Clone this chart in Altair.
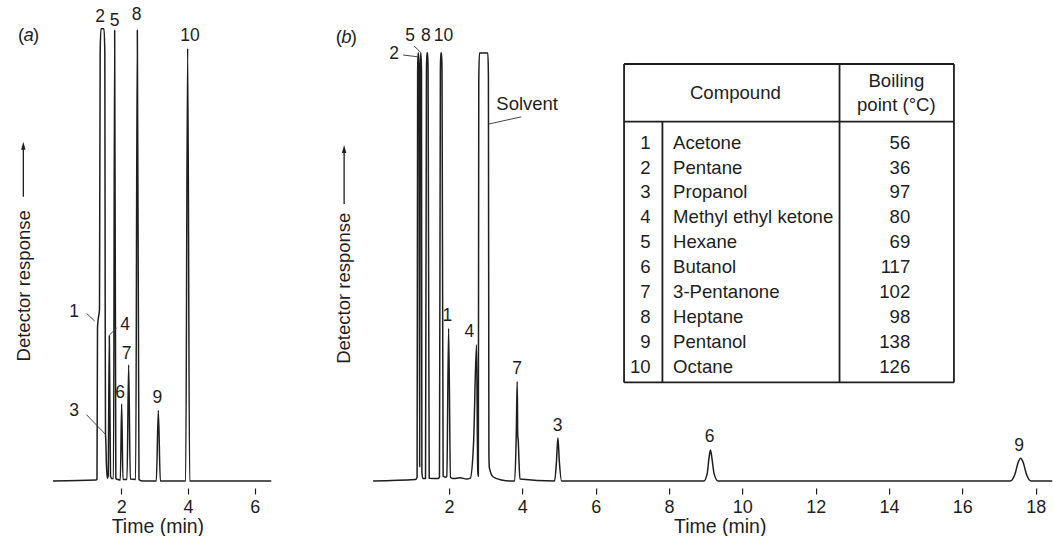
import altair as alt
import pandas as pd

FONT = "Liberation Sans"
INK = "#1e1e1e"

# ---------------- values ----------------
# (a) chromatogram trace: time (min) / detector response (% of full scale)
a_time = [-0.05, 1.24, 1.27, 1.285, 1.30, 1.345, 1.365, 1.39, 1.48, 1.505,
          1.515, 1.525, 1.535, 1.55, 1.58, 1.605, 1.64, 1.675, 1.72, 1.765,
          1.80, 1.835, 1.90, 1.97, 2.01, 2.05, 2.17, 2.22, 2.27, 2.43,
          2.48, 2.53, 2.65, 3.05, 3.11, 3.17, 3.93, 3.99, 4.05, 6.5]
a_resp = [0, 0.2, 0.4, 32.0, 33.6, 36.0, 90.0, 95.0, 95.0, 90.0,
          40.0, 10.0, 8.5, 4.0, 0.6, 1.0, 30.5, 1.0, 0.5, 0.5,
          94.7, 0.5, 0.3, 0.2, 16.2, 0.3, 0.3, 24.4, 0.4, 0.3,
          94.7, 0.3, 0.0, 0.0, 14.8, 0.0, 0.0, 90.9, 0.0, 0.0]

# (a) peak labels
a_lab_text = ["2", "5", "8", "10", "1", "4", "7", "6", "9", "3"]
a_lab_time = [1.36, 1.80, 2.46, 4.06, 0.58, 2.11, 2.16, 1.96, 3.08, 0.58]
a_lab_resp = [97.5, 96.7, 97.9, 93.5, 35.6, 32.8, 26.7, 18.4, 17.4, 14.8]
# (a) leader lines (for peaks 1, 3, 4)
a_lead_t1 = [0.96, 0.96, 1.86]
a_lead_r1 = [35.2, 13.9, 32.2]
a_lead_t2 = [1.20, 1.51, 1.65]
a_lead_r2 = [33.6, 9.9, 30.7]

# (b) chromatogram trace
b_time = [-0.07, 1.08, 1.13, 1.145, 1.155, 1.17, 1.18, 1.20, 1.215, 1.225,
          1.235, 1.25, 1.26, 1.285, 1.36, 1.385, 1.395, 1.42, 1.43, 1.46,
          1.70, 1.74, 1.765, 1.775, 1.80, 1.81, 1.84, 1.90, 1.94, 1.99,
          2.04, 2.12, 2.30, 2.48, 2.58, 2.67, 2.75, 2.785, 2.80, 2.812,
          2.83, 3.06, 3.075, 3.088, 3.10, 3.20, 3.43, 3.70, 3.79, 3.835,
          3.86, 3.875, 3.89, 3.905, 3.935, 4.88, 4.93, 4.97, 5.01, 5.07,
          8.95, 9.04, 9.09, 9.13, 9.17, 9.23, 9.34, 17.30, 17.44, 17.52,
          17.59, 17.66, 17.74, 17.88, 18.45]
b_resp = [0, 0.3, 0.8, 86, 89.9, 89.9, 86, 3, 86, 89.9,
          89.9, 86, 2, 0.5, 0.5, 86, 89.9, 89.9, 86, 0.6,
          0.5, 0.8, 86, 89.9, 89.9, 86, 1.0, 0.8, 1.0, 32.1,
          0.8, 0.5, 0.7, 0.4, 0.6, 8, 28.6, 2, 1.0, 84,
          89.9, 89.9, 85, 6, 2.8, 0.9, 0.2, 0, 0, 10,
          20.9, 9.5, 8.3, 5, 0.4, 0, 4, 9.1, 4, 0,
          0, 1.5, 4.8, 6.5, 4.8, 1.5, 0, 0, 1.6, 3.9,
          4.8, 3.9, 1.6, 0, 0]

# (b) peak labels
b_lab_text = ["5", "8", "10", "2", "1", "4", "7", "3", "6", "9"]
b_lab_time = [0.94, 1.37, 1.85, 0.50, 1.955, 2.555, 3.86, 4.96, 9.11, 17.55]
b_lab_resp = [93.5, 93.5, 93.5, 89.7, 34.6, 31.4, 23.6, 11.5, 9.2, 7.4]
# (b) leader lines (peaks 2, 5 and the solvent)
b_lead_t1 = [0.75, 1.05, 3.09]
b_lead_r1 = [89.5, 91.4, 75.0]
b_lead_t2 = [1.16, 1.23, 3.97]
b_lead_r2 = [89.1, 90.0, 76.5]

# table content
compound_no = ["1", "2", "3", "4", "5", "6", "7", "8", "9", "10"]
compound_name = ["Acetone", "Pentane", "Propanol", "Methyl ethyl ketone", "Hexane",
                 "Butanol", "3-Pentanone", "Heptane", "Pentanol", "Octane"]
boiling_point = ["56", "36", "97", "80", "69", "117", "102", "98", "138", "126"]

# ---------------- layout (pixels / data units) ----------------
PX_A = 33.33          # px per minute, panel (a)
PX_B = 36.67          # px per minute, panel (b)
A_DOM = [-0.05, 6.5]
B_DOM = [-0.07, 18.45]
H = 476               # plot height in px, response 0..100
W_A = (A_DOM[1] - A_DOM[0]) * PX_A
W_B = (B_DOM[1] - B_DOM[0]) * PX_B

y_scale = alt.Scale(domain=[0, 100], nice=False, zero=False)


def make_axis(values, title_x):
    return alt.Axis(values=values, domain=False, grid=False, ticks=True, tickSize=6,
                    tickWidth=1.2, tickColor=INK, offset=7, labelFont=FONT,
                    labelFontSize=18, labelColor=INK, labelPadding=4, labelFlush=False,
                    labelOverlap=False, title="Time (min)", titleFont=FONT,
                    titleFontSize=19.5, titleFontWeight="normal", titleColor=INK,
                    titlePadding=1, titleX=title_x)


def panel(dom, width, values, title_x, t, r, lt, lr, ltxt, l1t, l1r, l2t, l2r,
          tag, tag_t, tag_r, ylab_t, ylab_r, arr_t, arr_r0, arr_r1):
    xs = alt.Scale(domain=dom, nice=False, zero=False)
    ax = make_axis(values, title_x)

    def X(f):
        return alt.X(f, type="quantitative", scale=xs, axis=ax, title="Time (min)")

    def Y(f):
        return alt.Y(f, type="quantitative", scale=y_scale, axis=None)

    trace = alt.Chart(pd.DataFrame({"t": t, "r": r})).mark_line(
        interpolate="monotone", color=INK, strokeWidth=1.5, strokeJoin="round"
    ).encode(x=X("t"), y=Y("r"))

    labels = alt.Chart(pd.DataFrame({"t": lt, "r": lr, "s": ltxt})).mark_text(
        font=FONT, fontSize=17.5, color=INK, align="center", baseline="middle"
    ).encode(x=X("t"), y=Y("r"), text="s:N")

    leaders = alt.Chart(pd.DataFrame({"t": l1t, "r": l1r, "t2": l2t, "r2": l2r})).mark_rule(
        color="#444", strokeWidth=1
    ).encode(x=X("t"), y=Y("r"), x2="t2", y2="r2")

    tag_df = pd.DataFrame({"t": [tag_t] * 3, "r": [tag_r] * 3, "s": ["(", tag, ")"]})
    tag_open = alt.Chart(tag_df.iloc[[0]]).mark_text(
        font=FONT, fontSize=18.5, color=INK, dx=-7.5, baseline="middle").encode(x=X("t"), y=Y("r"), text="s:N")
    tag_mid = alt.Chart(tag_df.iloc[[1]]).mark_text(
        font=FONT, fontSize=18.5, color=INK, fontStyle="italic", baseline="middle").encode(x=X("t"), y=Y("r"), text="s:N")
    tag_close = alt.Chart(tag_df.iloc[[2]]).mark_text(
        font=FONT, fontSize=18.5, color=INK, dx=7.5, baseline="middle").encode(x=X("t"), y=Y("r"), text="s:N")

    ylab = alt.Chart(pd.DataFrame({"t": [ylab_t], "r": [ylab_r], "s": ["Detector response"]})).mark_text(
        font=FONT, fontSize=18.5, color=INK, angle=270, align="center", baseline="middle"
    ).encode(x=X("t"), y=Y("r"), text="s:N")

    arrow = alt.Chart(pd.DataFrame({"t": [arr_t], "r": [arr_r0], "r2": [arr_r1 - 1.0]})).mark_rule(
        color=INK, strokeWidth=1.3
    ).encode(x=X("t"), y=Y("r"), y2="r2")
    head = alt.Chart(pd.DataFrame({"t": [arr_t], "r": [arr_r1 - 0.85]})).mark_point(
        shape="M0,-1L0.55,1L-0.55,1Z", filled=True, size=64, color=INK, opacity=1
    ).encode(x=X("t"), y=Y("r"))

    return [trace, labels, leaders, tag_open, tag_mid, tag_close, ylab, arrow, head], X, Y


layers_a, XA, YA = panel(A_DOM, W_A, [2, 4, 6], 104.4, a_time, a_resp,
                         a_lab_time, a_lab_resp, a_lab_text,
                         a_lead_t1, a_lead_r1, a_lead_t2, a_lead_r2,
                         "a", -0.78, 93.6, -0.93, 41.0, -0.94, 59.7, 71.3)

# anchor at the top-left corner of the page so the layout lands where intended
anchor = alt.Chart(pd.DataFrame({"k": [0]})).mark_rule(strokeOpacity=0, strokeWidth=1).encode(
    x=alt.value(-52.3), x2=alt.value(-51.3), y=alt.value(-5), y2=alt.value(-5))

panel_a = alt.layer(*layers_a, anchor).properties(width=W_A, height=H)

layers_b, XB, YB = panel(B_DOM, W_B, [2, 4, 6, 8, 10, 12, 14, 16, 18], 346.6, b_time, b_resp,
                         b_lab_time, b_lab_resp, b_lab_text,
                         b_lead_t1, b_lead_r1, b_lead_t2, b_lead_r2,
                         "b", -0.80, 93.3, -0.86, 40.5, -0.86, 58.2, 70.6)

solvent = alt.Chart(pd.DataFrame({"t": [3.29], "r": [79.3], "s": ["Solvent"]})).mark_text(
    font=FONT, fontSize=18.5, color=INK, align="left", baseline="middle"
).encode(x=XB("t"), y=YB("r"), text="s:N")

# ---- table (positions in panel (b) units) ----
T_L, T_R, C1, C2 = 6.774, 15.77, 7.82, 12.65
T_TOP, T_HEAD, T_BOT = 87.6, 75.5, 20.7
tab_lines = pd.DataFrame({
    "t":  [T_L, T_L, T_L, T_L, T_R, C2, C1],
    "t2": [T_R, T_R, T_R, T_L, T_R, C2, C1],
    "r":  [T_TOP, T_HEAD, T_BOT, T_TOP, T_TOP, T_TOP, T_HEAD],
    "r2": [T_TOP, T_HEAD, T_BOT, T_BOT, T_BOT, T_BOT, T_BOT],
})
table_rules = alt.Chart(tab_lines).mark_rule(color=INK, strokeWidth=1.8).encode(
    x=XB("t"), x2="t2", y=YB("r"), y2="r2")

ROW0, ROW_STEP = 71.1, 5.244
rows = pd.DataFrame({
    "no": compound_no, "name": compound_name, "bp": boiling_point,
    "r": [ROW0 - i * ROW_STEP for i in range(len(compound_no))],
})
rows["t_no"], rows["t_name"], rows["t_bp"] = 7.50, 8.11, 14.58

txt = dict(font=FONT, fontSize=18.6, color=INK, baseline="middle")
tab_no = alt.Chart(rows).mark_text(align="right", **txt).encode(x=XB("t_no"), y=YB("r"), text="no:N")
tab_name = alt.Chart(rows).mark_text(align="left", **txt).encode(x=XB("t_name"), y=YB("r"), text="name:N")
tab_bp = alt.Chart(rows).mark_text(align="right", **txt).encode(x=XB("t_bp"), y=YB("r"), text="bp:N")
head = pd.DataFrame({"t": [9.81, 14.2, 14.2], "r": [81.6, 84.0, 79.0],
                     "s": ["Compound", "Boiling", "point (°C)"]})
tab_head = alt.Chart(head).mark_text(align="center", **txt).encode(x=XB("t"), y=YB("r"), text="s:N")

panel_b = alt.layer(*layers_b, solvent, table_rules, tab_no, tab_name, tab_bp, tab_head).properties(
    width=W_B, height=H)

chart = alt.hconcat(panel_a, panel_b, spacing=371.7 - (52.3 + W_A), bounds="flush").properties(
    padding=0, background="white"
).configure_view(stroke=None)

chart.save("out.html", embed_options={"renderer": "svg", "actions": False})
